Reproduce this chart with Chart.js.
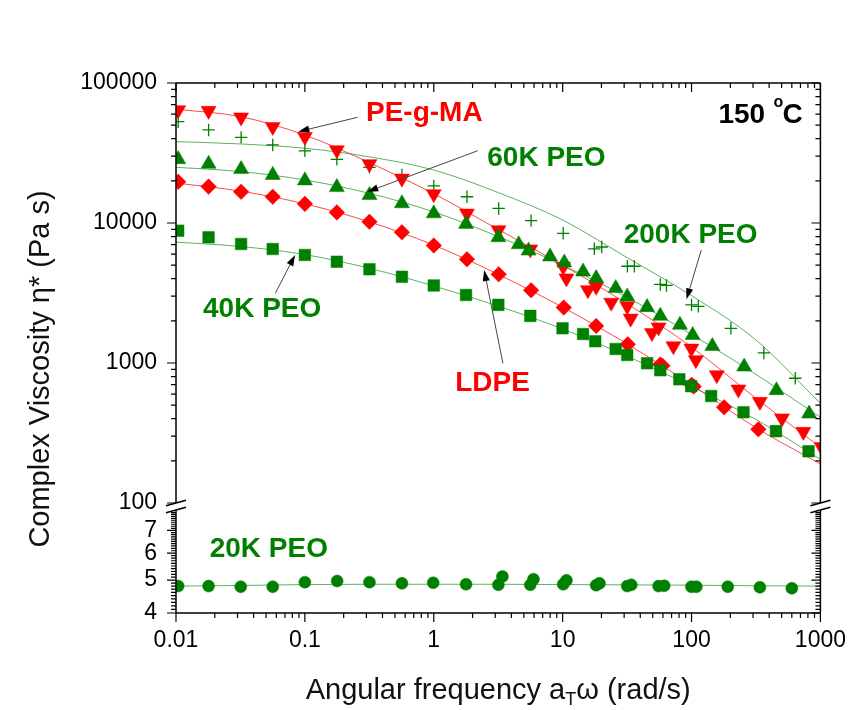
<!DOCTYPE html>
<html><head><meta charset="utf-8">
<script src="https://cdn.jsdelivr.net/npm/chart.js@4.4.1/dist/chart.umd.min.js"></script>
<style>html,body{margin:0;padding:0;background:#fff;}canvas{display:block;}</style>
</head><body>
<canvas id="c" width="860" height="710"></canvas>
<script>
// ---------- data ----------
const xTickVals = [0.01, 0.1, 1, 10, 100, 1000];
const yUpperTickVals = [100, 1000, 10000, 100000];
const yLowerTickVals = [4, 5, 6, 7];

const pegmaFreq = [0.0104, 0.0179, 0.032, 0.0563, 0.1, 0.177, 0.317, 0.566, 1.0, 1.81, 3.18, 5.61, 10.1, 10.7, 15.7, 18.2, 23.8, 31.7, 33.7, 49.3, 55.5, 72.3, 99.8, 108, 157, 231, 339, 503, 738, 1018];
const pegmaVisc = [64100, 63400, 56900, 48700, 41300, 33200, 26400, 20800, 16100, 11700, 8910, 6490, 4880, 4030, 3320, 3510, 2700, 2550, 2080, 1640, 1800, 1320, 1270, 1050, 820, 648, 529, 403, 323, 252];

const ldpeFreq = [0.0104, 0.0179, 0.032, 0.0563, 0.1, 0.177, 0.317, 0.566, 1.0, 1.81, 3.19, 5.69, 10.2, 18.2, 32.0, 57.2, 59.5, 100, 104, 179, 330];
const ldpeVisc = [19700, 18200, 16700, 15400, 13700, 11900, 10200, 8590, 6910, 5510, 4300, 3310, 2490, 1840, 1360, 975, 955, 698, 680, 483, 336];

const p60Freq = [0.0104, 0.0179, 0.032, 0.0563, 0.1, 0.177, 0.317, 0.566, 1.0, 1.78, 3.17, 4.56, 5.44, 7.98, 10.3, 14.4, 18.2, 25.8, 31.7, 45.2, 57.2, 81.3, 102, 145, 256, 456, 817];
const p60Visc = [28500, 26400, 24200, 22000, 20100, 18000, 15800, 13800, 11700, 9830, 7900, 7040, 6340, 5750, 5210, 4490, 4030, 3420, 2980, 2500, 2170, 1870, 1580, 1320, 941, 638, 434];

const p40Freq = [0.0104, 0.0179, 0.032, 0.0563, 0.1, 0.177, 0.317, 0.566, 1.0, 1.78, 3.17, 5.61, 9.98, 14.4, 17.9, 25.8, 31.7, 45.2, 57.2, 80.4, 99.3, 142, 253, 452, 809];
const p40Visc = [8810, 7910, 7080, 6520, 5910, 5290, 4670, 4130, 3580, 3060, 2600, 2170, 1770, 1610, 1430, 1260, 1140, 995, 887, 765, 683, 581, 445, 326, 234];

const p200Freq = [0.0104, 0.0179, 0.032, 0.0563, 0.1, 0.177, 0.317, 0.566, 1.0, 1.81, 3.19, 5.69, 10.1, 17.6, 20.1, 31.8, 36.0, 57.2, 63.9, 100, 113, 202, 364, 638];
const p200Visc = [52900, 46200, 40900, 36100, 32800, 28500, 25000, 22000, 18400, 15400, 12700, 10400, 8440, 6540, 6740, 4910, 4910, 3640, 3580, 2600, 2540, 1770, 1180, 778];

const p20Freq = [0.0104, 0.0179, 0.0318, 0.0563, 0.1, 0.178, 0.317, 0.566, 0.99, 1.78, 3.17, 3.41, 5.61, 5.94, 10.1, 10.7, 18.2, 19.3, 31.7, 34.1, 55.5, 61.4, 99.8, 109, 191, 339, 600];
const p20Visc = [4.80, 4.80, 4.78, 4.78, 4.93, 4.97, 4.93, 4.89, 4.91, 4.86, 4.84, 5.12, 4.84, 5.03, 4.86, 4.99, 4.83, 4.89, 4.80, 4.84, 4.80, 4.81, 4.78, 4.78, 4.78, 4.76, 4.73];

// fitted curves (thin lines), read at half-decade steps
const fitFreq = [0.01, 0.0316, 0.1, 0.316, 1, 3.16, 10, 31.6, 100, 316, 1000];
const pegmaFit = [65000, 57500, 42500, 27000, 16200, 9000, 5000, 2650, 1300, 560, 250];
const ldpeFit  = [19300, 16900, 13700, 10200, 6950, 4300, 2500, 1370, 700, 345, 190];
const p60Fit   = [25000, 23300, 20300, 16300, 12000, 8000, 5000, 2950, 1600, 830, 410];
const p40Fit   = [7300, 6800, 5950, 4750, 3550, 2550, 1750, 1120, 680, 395, 205];
const p200Fit  = [38100, 36700, 34200, 29700, 23900, 16500, 10500, 5660, 3030, 1460, 515];
const p20Fit   = [4.80, 4.82, 4.85, 4.86, 4.86, 4.86, 4.85, 4.84, 4.83, 4.81, 4.80];

// annotation labels (data coordinates) and arrows (tail -> head)
const labelTexts  = ['PE-g-MA', '60K PEO', '200K PEO', '40K PEO', 'LDPE'];
const labelColors = ['#ff0000', '#008000', '#008000', '#008000', '#ff0000'];
const labelX      = [0.844, 7.48, 98.4, 0.0466, 2.86];
const labelY      = [61100, 29100, 8110, 2430, 716];
const arrowTailX  = [0.2566, 2.19, 119, 0.059, 3.44];
const arrowTailY  = [56900, 32800, 6410, 3150, 995];
const arrowHeadX  = [0.0889, 0.305, 91.4, 0.0839, 2.46];
const arrowHeadY  = [44900, 16700, 2850, 5910, 4610];
const lowerLabel = {text: '20K PEO', x: 0.0525, y: 6.17};

// ---------- chart ----------
const FONT = "'Liberation Sans', Arial, Helvetica, sans-serif";
const RED = '#ff0000', GREEN = '#008000';
const RED_LINE = 'rgba(255,40,40,0.85)', GREEN_LINE = 'rgba(40,150,40,0.75)';
const pts = (xs, ys) => xs.map((x, i) => ({x, y: ys[i]}));

function markerSet(xs, ys, color, style, radius, rot, axis, hollow) {
  return {
    data: pts(xs, ys), yAxisID: axis, showLine: false, order: 1, clip: 0,
    pointStyle: style, pointRadius: radius, pointRotation: rot || 0,
    pointBackgroundColor: hollow ? 'rgba(0,0,0,0)' : color,
    pointBorderColor: color, pointBorderWidth: hollow ? 1.3 : 0.5,
    borderColor: color, backgroundColor: color
  };
}
function fitSet(ys, color, axis) {
  return {
    data: pts(fitFreq, ys), yAxisID: axis, showLine: true, order: 2,
    borderColor: color, borderWidth: 1, pointRadius: 0,
    cubicInterpolationMode: 'monotone', fill: false
  };
}

function arrow(ctx, x1, y1, x2, y2) {
  const a = Math.atan2(y2 - y1, x2 - x1), hl = 11, hw = 3.6;
  const bx = x2 - hl * Math.cos(a), by = y2 - hl * Math.sin(a);
  ctx.strokeStyle = '#444'; ctx.lineWidth = 1;
  ctx.beginPath(); ctx.moveTo(x1, y1); ctx.lineTo(bx, by); ctx.stroke();
  ctx.fillStyle = '#000';
  ctx.beginPath(); ctx.moveTo(x2, y2);
  ctx.lineTo(bx + hw * Math.sin(a), by - hw * Math.cos(a));
  ctx.lineTo(bx - hw * Math.sin(a), by + hw * Math.cos(a));
  ctx.closePath(); ctx.fill();
}

const framePlugin = {
  id: 'frame',
  afterDatasetsDraw(chart) {
    const ctx = chart.ctx;
    const sx = chart.scales.x, yU = chart.scales.y, yL = chart.scales.y2;
    const L = sx.left, R = sx.right, T = yU.top, B = yL.bottom;
    const brk = yU.bottom, gap = 7;
    ctx.save();
    ctx.strokeStyle = '#000'; ctx.lineWidth = 1.5; ctx.lineCap = 'butt';
    ctx.beginPath();
    ctx.moveTo(L, T); ctx.lineTo(R, T);
    ctx.moveTo(L, B); ctx.lineTo(R, B);
    ctx.moveTo(L, T); ctx.lineTo(L, brk);
    ctx.moveTo(L, brk + gap); ctx.lineTo(L, B);
    ctx.moveTo(R, T); ctx.lineTo(R, brk);
    ctx.moveTo(R, brk + gap); ctx.lineTo(R, B);
    ctx.stroke();
    ctx.beginPath();
    for (const X of [L, R]) {
      for (const c of [brk, brk + gap]) {
        ctx.moveTo(X - 10, c + 2.8); ctx.lineTo(X + 10, c - 2.8);
      }
    }
    ctx.stroke();
    ctx.lineWidth = 1.2;
    ctx.beginPath();
    const MAJ = 9, MIN = 5;
    const yTick = (scale, v, len, minPix) => {
      const p = scale.getPixelForValue(v);
      if (minPix !== undefined && p < minPix) return;
      ctx.moveTo(L, p); ctx.lineTo(L - len, p);
      ctx.moveTo(R, p); ctx.lineTo(R - len, p);
    };
    const xTick = (v, len) => {
      const p = sx.getPixelForValue(v);
      ctx.moveTo(p, B); ctx.lineTo(p, B + len);
      ctx.moveTo(p, T); ctx.lineTo(p, T + len);
    };
    yUpperTickVals.forEach(v => yTick(yU, v, MAJ));
    for (let n = 2; n <= 4; n++) for (let k = 2; k <= 9; k++) yTick(yU, k * Math.pow(10, n), MIN);
    yLowerTickVals.forEach(v => yTick(yL, v, MAJ, brk + gap + 1));
    for (let i = 40; i <= 84; i++) { if (i % 10) yTick(yL, i / 10, MIN, brk + gap + 1); }
    xTickVals.forEach(v => xTick(v, MAJ));
    for (let n = -2; n <= 2; n++) for (let k = 2; k <= 9; k++) xTick(k * Math.pow(10, n), MIN);
    ctx.stroke();

    ctx.fillStyle = '#111';
    ctx.font = '29px ' + FONT;
    ctx.save();
    ctx.translate(49, 369); ctx.rotate(-Math.PI / 2);
    ctx.textAlign = 'center'; ctx.textBaseline = 'alphabetic';
    ctx.fillText('Complex Viscosity \u03b7* (Pa s)', 0, 0);
    ctx.restore();
    const t1 = 'Angular frequency a', t2 = 'T', t3 = '\u03c9 (rad/s)';
    ctx.font = '29px ' + FONT; const w1 = ctx.measureText(t1).width, w3 = ctx.measureText(t3).width;
    ctx.font = '18px ' + FONT; const w2 = ctx.measureText(t2).width;
    let xs = (L + R) / 2 - (w1 + w2 + w3) / 2; const base = 699;
    ctx.textAlign = 'left'; ctx.textBaseline = 'alphabetic';
    ctx.font = '29px ' + FONT; ctx.fillText(t1, xs, base); xs += w1;
    ctx.font = '18px ' + FONT; ctx.fillText(t2, xs, base + 6); xs += w2;
    ctx.font = '29px ' + FONT; ctx.fillText(t3, xs, base);

    for (let i = 0; i < arrowTailX.length; i++) {
      arrow(ctx, sx.getPixelForValue(arrowTailX[i]), yU.getPixelForValue(arrowTailY[i]),
                 sx.getPixelForValue(arrowHeadX[i]), yU.getPixelForValue(arrowHeadY[i]));
    }
    ctx.font = 'bold 28px ' + FONT; ctx.textAlign = 'center'; ctx.textBaseline = 'middle';
    for (let i = 0; i < labelTexts.length; i++) {
      ctx.fillStyle = labelColors[i];
      ctx.fillText(labelTexts[i], sx.getPixelForValue(labelX[i]), yU.getPixelForValue(labelY[i]));
    }
    ctx.fillStyle = GREEN;
    ctx.fillText(lowerLabel.text, sx.getPixelForValue(lowerLabel.x), yL.getPixelForValue(lowerLabel.y));

    ctx.fillStyle = '#000'; ctx.textAlign = 'left'; ctx.textBaseline = 'alphabetic';
    const tx = R - 102, ty = T + 40;
    ctx.font = 'bold 28px ' + FONT; ctx.fillText('150', tx, ty);
    ctx.font = 'bold 16px ' + FONT; ctx.fillText('o', tx + 55, ty - 16);
    ctx.font = 'bold 28px ' + FONT; ctx.fillText('C', tx + 64, ty);
    ctx.restore();
  }
};

const tickFont = {family: FONT, size: 23};
new Chart(document.getElementById('c'), {
  type: 'line',
  data: {
    datasets: [
      fitSet(pegmaFit, RED_LINE, 'y'),
      fitSet(ldpeFit, RED_LINE, 'y'),
      fitSet(p60Fit, GREEN_LINE, 'y'),
      fitSet(p40Fit, GREEN_LINE, 'y'),
      fitSet(p200Fit, GREEN_LINE, 'y'),
      fitSet(p20Fit, GREEN_LINE, 'y2'),
      markerSet(p40Freq, p40Visc, GREEN, 'rect', 8.2, 0, 'y'),
      markerSet(ldpeFreq, ldpeVisc, RED, 'rectRot', 7.8, 0, 'y'),
      markerSet(p60Freq, p60Visc, GREEN, 'triangle', 8.7, 0, 'y'),
      markerSet(pegmaFreq, pegmaVisc, RED, 'triangle', 8.7, 180, 'y'),
      markerSet(p200Freq, p200Visc, GREEN, 'cross', 6.2, 0, 'y', true),
      markerSet(p20Freq, p20Visc, GREEN, 'circle', 6, 0, 'y2')
    ]
  },
  options: {
    responsive: false, animation: false, devicePixelRatio: 1,
    layout: {padding: {left: 0, right: 31, top: 83, bottom: 0}},
    plugins: {legend: {display: false}, tooltip: {enabled: false}},
    scales: {
      x: {
        type: 'logarithmic', position: 'bottom', min: 0.01, max: 1000,
        afterBuildTicks: s => { s.ticks = xTickVals.map(v => ({value: v})); },
        afterFit: s => { s.height = 97; },
        grid: {display: false, drawTicks: false}, border: {display: false},
        ticks: {callback: v => String(v), font: tickFont, color: '#000', padding: 14, maxRotation: 0, autoSkip: false}
      },
      y: {
        type: 'logarithmic', position: 'left', stack: 'v', stackWeight: 420, weight: 2,
        min: 100, max: 100000,
        afterBuildTicks: s => { s.ticks = yUpperTickVals.map(v => ({value: v})); },
        afterFit: s => { s.width = 176; },
        grid: {display: false, drawTicks: false}, border: {display: false},
        ticks: {callback: v => String(v), font: tickFont, color: '#000', padding: 19, autoSkip: false}
      },
      y2: {
        type: 'logarithmic', position: 'left', stack: 'v', stackWeight: 110, weight: 1,
        min: 4, max: 8.43,
        afterBuildTicks: s => { s.ticks = yLowerTickVals.map(v => ({value: v})); },
        afterFit: s => { s.width = 176; },
        grid: {display: false, drawTicks: false}, border: {display: false},
        ticks: {callback: v => String(v), font: tickFont, color: '#000', padding: 19, autoSkip: false}
      }
    }
  },
  plugins: [framePlugin]
});
</script>
</body></html>
